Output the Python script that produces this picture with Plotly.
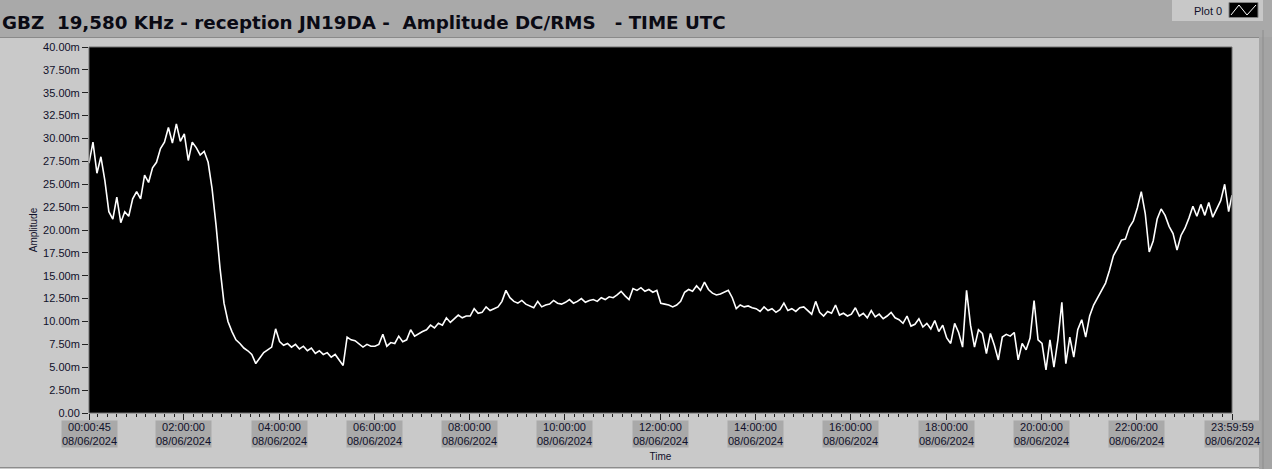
import pandas as pd
import plotly.graph_objects as go

# ---------------- data (5-minute samples) ----------------
start_time = "2024-06-08 00:00:45"
end_time = "2024-06-08 23:59:59"

amp_h00 = [27.3, 29.6, 26.2, 28.0, 25.4, 22.0, 21.2, 23.6, 20.8, 22.0, 21.5, 23.4]
amp_h01 = [24.2, 23.4, 26.0, 25.2, 26.8, 27.4, 28.9, 29.6, 31.2, 29.5, 31.6, 29.7]
amp_h02 = [30.5, 27.6, 29.6, 29.0, 28.2, 28.6, 27.4, 24.5, 20.5, 15.8, 12.0, 10.0]
amp_h03 = [8.9, 8.0, 7.6, 7.1, 6.8, 6.4, 5.4, 6.0, 6.6, 6.9, 7.2, 9.2]
amp_h04 = [7.8, 7.4, 7.6, 7.2, 7.5, 7.0, 7.3, 6.8, 7.1, 6.5, 6.8, 6.4]
amp_h05 = [6.6, 6.1, 6.4, 5.8, 5.2, 8.3, 8.0, 7.9, 7.6, 7.2, 7.5, 7.3]
amp_h06 = [7.3, 7.5, 8.6, 7.3, 7.7, 7.6, 8.4, 7.8, 8.0, 9.1, 8.4, 8.7]
amp_h07 = [8.9, 9.1, 9.6, 9.3, 9.8, 9.6, 10.4, 9.9, 10.3, 10.7, 10.4, 10.6]
amp_h08 = [10.6, 11.4, 10.9, 11.0, 11.6, 11.2, 11.4, 11.6, 12.2, 13.4, 12.6, 12.2]
amp_h09 = [12.0, 12.3, 11.9, 11.7, 11.5, 12.2, 11.6, 11.8, 11.9, 12.3, 12.0, 11.9]
amp_h10 = [12.1, 12.4, 12.0, 12.2, 12.5, 12.1, 12.3, 12.4, 12.2, 12.6, 12.4, 12.7]
amp_h11 = [12.6, 12.9, 13.3, 12.8, 12.4, 13.6, 13.4, 13.7, 13.3, 13.5, 13.2, 13.4]
amp_h12 = [12.0, 11.9, 11.8, 11.6, 11.8, 12.2, 13.2, 13.5, 13.3, 13.9, 13.4, 14.3]
amp_h13 = [13.5, 13.1, 12.9, 13.0, 13.2, 13.4, 12.6, 11.4, 11.8, 11.6, 11.7, 11.5]
amp_h14 = [11.4, 11.1, 11.6, 11.2, 11.4, 11.0, 11.3, 12.0, 11.2, 11.4, 11.1, 11.5]
amp_h15 = [11.6, 11.2, 10.8, 12.2, 11.0, 10.6, 11.1, 10.9, 11.8, 10.7, 10.9, 10.6]
amp_h16 = [10.8, 11.5, 10.6, 10.9, 10.4, 11.2, 10.5, 10.8, 10.3, 10.6, 11.0, 10.4]
amp_h17 = [10.2, 9.8, 10.6, 9.5, 9.7, 10.3, 9.4, 9.8, 9.2, 10.1, 8.9, 9.6]
amp_h18 = [8.2, 7.6, 9.8, 8.8, 7.2, 13.4, 9.6, 7.2, 9.1, 8.7, 6.5, 8.7]
amp_h19 = [7.4, 5.8, 8.3, 8.6, 8.4, 8.8, 5.8, 7.6, 6.9, 8.2, 12.3, 8.0]
amp_h20 = [7.6, 4.7, 8.0, 5.0, 8.0, 12.1, 5.4, 8.3, 6.1, 9.1, 10.2, 8.3]
amp_h21 = [10.6, 11.8, 12.6, 13.4, 14.2, 15.6, 17.2, 18.0, 18.9, 19.0, 20.3, 21.0]
amp_h22 = [22.4, 24.2, 21.8, 17.6, 18.8, 21.2, 22.3, 21.6, 20.4, 19.6, 17.8, 19.4]
amp_h23 = [20.2, 21.3, 22.6, 21.5, 22.8, 21.6, 23.0, 21.4, 22.3, 23.2, 25.0, 22.0]
amp_last = [23.8]

amplitude_mV = (amp_h00 + amp_h01 + amp_h02 + amp_h03 + amp_h04 + amp_h05 +
                amp_h06 + amp_h07 + amp_h08 + amp_h09 + amp_h10 + amp_h11 +
                amp_h12 + amp_h13 + amp_h14 + amp_h15 + amp_h16 + amp_h17 +
                amp_h18 + amp_h19 + amp_h20 + amp_h21 + amp_h22 + amp_h23 + amp_last)

times = list(pd.date_range(start_time, periods=len(amplitude_mV) - 1, freq="5min")) + [pd.Timestamp(end_time)]

x_tick_times = ["2024-06-08 00:00:45", "2024-06-08 02:00:00", "2024-06-08 04:00:00",
                "2024-06-08 06:00:00", "2024-06-08 08:00:00", "2024-06-08 10:00:00",
                "2024-06-08 12:00:00", "2024-06-08 14:00:00", "2024-06-08 16:00:00",
                "2024-06-08 18:00:00", "2024-06-08 20:00:00", "2024-06-08 22:00:00",
                "2024-06-08 23:59:59"]
x_tick_labels = ["00:00:45", "02:00:00", "04:00:00", "06:00:00", "08:00:00", "10:00:00",
                 "12:00:00", "14:00:00", "16:00:00", "18:00:00", "20:00:00", "22:00:00",
                 "23:59:59"]
x_tick_date = "08/06/2024"

y_tick_vals = [0, 2.5, 5, 7.5, 10, 12.5, 15, 17.5, 20, 22.5, 25, 27.5, 30, 32.5, 35, 37.5, 40]
y_tick_text = ["0.00", "2.50m", "5.00m", "7.50m", "10.00m", "12.50m", "15.00m", "17.50m",
               "20.00m", "22.50m", "25.00m", "27.50m", "30.00m", "32.50m", "35.00m",
               "37.50m", "40.00m"]

title_text = "GBZ  19,580 KHz - reception JN19DA -  Amplitude DC/RMS   - TIME UTC"
legend_name = "Plot 0"

# ---------------- layout geometry ----------------
W, H = 1272, 469
L, R, T, B = 89, 1232, 47, 413
PW, PH = R - L, B - T


def px(xp):
    return (xp - L) / PW


def py(yp):
    return (B - yp) / PH


FONT = "Liberation Sans"
TXT = "#10102a"

fig = go.Figure()
fig.add_trace(go.Scatter(
    x=times, y=amplitude_mV, mode="lines", name=legend_name,
    line=dict(color="white", width=1.6), showlegend=False, hoverinfo="skip",
))

shapes = [
    # top title band
    dict(type="rect", xref="paper", yref="paper", x0=px(0), x1=px(W), y0=py(37), y1=py(0),
         fillcolor="#a9a9a9", line=dict(width=0), layer="below"),
    dict(type="line", xref="paper", yref="paper", x0=px(0), x1=px(1259), y0=py(37.5), y1=py(37.5),
         line=dict(color="#8a8a8a", width=1), layer="below"),
    # right strip
    dict(type="rect", xref="paper", yref="paper", x0=px(1259), x1=px(W), y0=py(H), y1=py(37),
         fillcolor="#a4a4a4", line=dict(width=0), layer="below"),
    dict(type="line", xref="paper", yref="paper", x0=px(1263), x1=px(1263), y0=py(H), y1=py(30),
         line=dict(color="#8c8c8c", width=1), layer="below"),
    # bottom border
    dict(type="line", xref="paper", yref="paper", x0=px(0), x1=px(1259), y0=py(467.5), y1=py(467.5),
         line=dict(color="#8c8c8c", width=1), layer="below"),
    # legend panel
    dict(type="rect", xref="paper", yref="paper", x0=px(1172), x1=px(1263), y0=py(21), y1=py(0),
         fillcolor="#c8c8c8", line=dict(width=0), layer="below"),
    dict(type="rect", xref="paper", yref="paper", x0=px(1229), x1=px(1258), y0=py(17.5), y1=py(2.5),
         fillcolor="black", line=dict(color="#808080", width=1), layer="above"),
    dict(type="path", xref="paper", yref="paper",
         path="M %f,%f L %f,%f L %f,%f L %f,%f" % (px(1231), py(15), px(1239), py(5), px(1247), py(15), px(1256), py(5)),
         line=dict(color="white", width=1), layer="above"),
    # plot frame
    dict(type="rect", xref="paper", yref="paper", x0=0, x1=1, y0=0, y1=1,
         line=dict(color="#6e6e6e", width=1), layer="above"),
]

annotations = [
    dict(text=title_text.replace(" ", "\u00a0"), xref="paper", yref="paper", x=px(0), y=py(22),
         xanchor="left", yanchor="middle", showarrow=False,
         font=dict(family="DejaVu Sans", size=18.3, color="#0a0a14", weight="bold")),
    dict(text=legend_name, xref="paper", yref="paper", x=px(1208), y=py(11),
         xanchor="center", yanchor="middle", showarrow=False,
         font=dict(family=FONT, size=11, color=TXT)),
]
for t, lab in zip(x_tick_times, x_tick_labels):
    annotations.append(dict(
        text=lab + "<br>" + x_tick_date, x=t, xref="x", y=0, yref="paper",
        yanchor="top", yshift=-7, showarrow=False, bgcolor="#a9a9a9", borderpad=0,
        font=dict(family=FONT, size=11, color=TXT), align="center",
    ))

fig.update_layout(
    width=W, height=H,
    margin=dict(l=L, r=W - R, t=T, b=H - B, pad=0, autoexpand=False),
    paper_bgcolor="#c9c9c9", plot_bgcolor="black",
    shapes=shapes, annotations=annotations,
    xaxis=dict(
        type="date", range=[start_time, end_time], automargin=False,
        tickmode="array", tickvals=x_tick_times, showticklabels=False,
        ticks="outside", ticklen=6, tickcolor="#222", tickwidth=1,
        minor=dict(tickmode="linear", tick0="2024-06-08 00:00:00", dtick=12 * 60 * 1000,
                   ticks="outside", ticklen=3, tickcolor="#222"),
        showgrid=False, zeroline=False, showline=False,
        title=dict(text="Time", font=dict(family=FONT, size=10, color=TXT), standoff=33),
    ),
    yaxis=dict(
        range=[0, 40], automargin=False, tickmode="array", tickvals=y_tick_vals, ticktext=y_tick_text,
        ticks="outside", ticklen=6, tickcolor="#222", tickwidth=1,
        tickfont=dict(family=FONT, size=11, color=TXT),
        showgrid=False, zeroline=False, showline=False,
        title=dict(text="Amplitude", font=dict(family=FONT, size=10, color=TXT), standoff=3),
    ),
)

fig.write_html("out.html", config={"displayModeBar": False},
               post_script="document.body.style.margin='0';document.body.style.padding='0';"
                           "document.body.style.overflow='hidden';")
